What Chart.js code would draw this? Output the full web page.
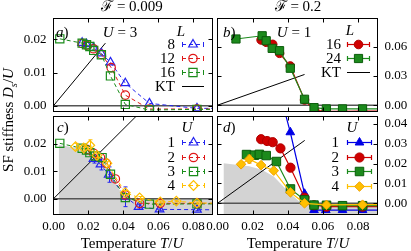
<!DOCTYPE html>
<html><head><meta charset="utf-8">
<script src="https://cdn.jsdelivr.net/npm/chart.js@4/dist/chart.umd.min.js"></script>
<style>
html,body{margin:0;padding:0;background:#fff;}
#wrap{position:relative;width:411px;height:251px;overflow:hidden;font-family:'Liberation Serif','Times New Roman',serif;color:#000;}
canvas{position:absolute;left:0;top:0;}
.t{position:absolute;white-space:nowrap;line-height:1;font-size:15px;}
.c{transform:translate(-50%,-50%);}
.r{transform:translate(-100%,-50%);}
.l{transform:translate(0,-50%);}
sub{font-size:70%;line-height:0;}
</style></head><body>
<div id="wrap">
<canvas id="ca" width="411" height="251"></canvas>
<canvas id="cb" width="411" height="251"></canvas>
<canvas id="cc" width="411" height="251"></canvas>
<canvas id="cd" width="411" height="251"></canvas>

<div class="t c" style="left:132px;top:6px">ℱ = 0.009</div>
<div class="t c" style="left:298px;top:6px">ℱ = 0.2</div>
<div class="t c" style="left:8px;top:120px;transform:translate(-50%,-50%) rotate(-90deg)">SF stiffness <i>D</i><sub><i>s</i></sub>/<i>U</i></div>
<div class="t c" style="left:132px;top:243px">Temperature <i>T</i>/<i>U</i></div>
<div class="t c" style="left:298px;top:243px">Temperature <i>T</i>/<i>U</i></div>

<div class="t l" style="left:56px;top:32px"><i>a</i>)</div>
<div class="t l" style="left:223px;top:32px"><i>b</i>)</div>
<div class="t l" style="left:57px;top:127px"><i>c</i>)</div>
<div class="t l" style="left:223px;top:127px"><i>d</i>)</div>
<div class="t c" style="left:120px;top:32px"><i>U</i> = 3</div>
<div class="t c" style="left:294px;top:32px"><i>U</i> = 1</div>

<div class="t c" style="left:181px;top:31px"><i>L</i></div>
<div class="t r" style="left:175px;top:44px">8</div>
<div class="t r" style="left:175px;top:58px">12</div>
<div class="t r" style="left:175px;top:72px">16</div>
<div class="t r" style="left:175px;top:86px">KT</div>

<div class="t c" style="left:350px;top:30px"><i>L</i></div>
<div class="t r" style="left:341px;top:44px">16</div>
<div class="t r" style="left:341px;top:58px">24</div>
<div class="t r" style="left:341px;top:72px">KT</div>

<div class="t c" style="left:187px;top:127px"><i>U</i></div>
<div class="t r" style="left:175px;top:142px">1</div>
<div class="t r" style="left:175px;top:157px">2</div>
<div class="t r" style="left:175px;top:171px">3</div>
<div class="t r" style="left:175px;top:185px">4</div>

<div class="t c" style="left:352px;top:127px"><i>U</i></div>
<div class="t r" style="left:339px;top:142px">1</div>
<div class="t r" style="left:339px;top:157px">2</div>
<div class="t r" style="left:339px;top:171px">3</div>
<div class="t r" style="left:339px;top:186px">4</div>
</div>

<script>
// ---------- axes ----------
const xTicks = [0, 0.02, 0.04, 0.06, 0.08];
const xTickLabels = ['0.00', '0.02', '0.04', '0.06', '0.08'];
const yTicksA = [0, 0.01, 0.02];
const yTickLabelsA = ['0.00', '0.01', '0.02'];
const yTicksB = [0, 0.03, 0.06];
const yTickLabelsB = ['0.00', '0.03', '0.06'];
const yTicksC = [0, 0.01, 0.02];
const yTickLabelsC = ['0.00', '0.01', '0.02'];
const yTicksD = [0, 0.01, 0.02, 0.03, 0.04];
const yTickLabelsD = ['0.00', '0.01', '0.02', '0.03', '0.04'];

// ---------- panel a: F=0.009, U=3, sizes L ----------
const aT8   = [0.0164, 0.0189, 0.0229, 0.0274, 0.0326, 0.0411, 0.0549, 0.0821, 0.1];
const aDs8  = [0.0190, 0.0186, 0.0175, 0.0158, 0.0131, 0.0068, 0.0007, -0.0008, -0.0008];
const aT12  = [0.0164, 0.0189, 0.0229, 0.0274, 0.0330, 0.0411, 0.0549, 0.0821, 0.1];
const aDs12 = [0.0188, 0.0183, 0.0172, 0.0155, 0.0115, 0.0032, -0.0010, -0.0010, -0.0010];
const aT16  = [0.0036, 0.0164, 0.0189, 0.0208, 0.0230, 0.0274, 0.0326, 0.0411, 0.0549, 0.0821, 0.1];
const aDs16 = [0.0202, 0.0189, 0.0184, 0.0179, 0.0167, 0.0154, 0.0090, 0.0004, -0.0013, -0.0011, -0.0011];
const aKtT  = [0, 0.0297];
const aKtDs = [0, 0.0189];

// ---------- panel b: F=0.2, U=1, sizes L ----------
const bT16  = [0.0248, 0.0277, 0.0314, 0.0353, 0.0414, 0.0495, 0.0553, 0.0619, 0.0711, 0.0825, 0.1];
const bDs16 = [0.0669, 0.0645, 0.0624, 0.0532, 0.0402, 0.0054, -0.0055, -0.0060, -0.0062, -0.0060, -0.0060];
const bT24  = [0.0105, 0.0254, 0.0277, 0.0311, 0.0353, 0.0414, 0.0495, 0.0549, 0.0619, 0.0711, 0.0825, 0.1];
const bDs24 = [0.0679, 0.0712, 0.0661, 0.0583, 0.0559, 0.0379, 0.0061, -0.0025, -0.0038, -0.0038, -0.0038, -0.0038];
const bKtT  = [0, 0.0495];
const bKtDs = [0, 0.0315];

// ---------- panel c: F=0.009, interactions U ----------
const cT1   = [0.0229, 0.0269, 0.0316, 0.0411, 0.0487, 0.0607, 0.0821, 0.1];
const cDs1  = [0.0145, 0.0125, 0.0088, 0.0007, -0.0030, -0.0039, -0.0040, -0.0041];
const cErr1 = [0.0015, 0.0020, 0.0028, 0.0036, 0.0008, 0.0005, 0.0004, 0];
const cT2   = [0.0189, 0.0229, 0.0269, 0.0303, 0.0354, 0.0411, 0.0493, 0.0611, 0.0825, 0.1];
const cDs2  = [0.0180, 0.0166, 0.0150, 0.0129, 0.0072, 0.0014, -0.0017, -0.0017, -0.0017, -0.0017];
const cT3   = [0.0036, 0.0164, 0.0189, 0.0208, 0.0240, 0.0278, 0.0326, 0.0411, 0.0549, 0.0821, 0.1];
const cDs3  = [0.0202, 0.0184, 0.0178, 0.0168, 0.0156, 0.0150, 0.0089, 0.0004, -0.0020, -0.0019, -0.0019];
const cT4   = [0.0126, 0.0173, 0.0208, 0.0249, 0.0306, 0.0411, 0.0493, 0.0611, 0.0703, 0.0821, 0.1];
const cDs4  = [0.0190, 0.0185, 0.0195, 0.0158, 0.0129, 0.0022, 0.0003, -0.0012, -0.0009, -0.0016, -0.0016];
const cErr4 = [0.0012, 0.0008, 0.0020, 0.0008, 0.0006, 0.0008, 0.0005, 0.0004, 0.0003, 0.0004, 0];
const cGrayT  = [0.0030, 0.0154, 0.0249, 0.0316, 0.0383, 0.0410, 0.1];
const cGrayDs = [0.0196, 0.0184, 0.0153, 0.0099, 0.0026, 0.0000, 0.0000];
const cKtT  = [0, 0.05];
const cKtDs = [0, 0.0318];

// ---------- panel d: F=0.2, interactions U ----------
const dT1   = [0.0353, 0.0414, 0.0495, 0.0549, 0.0616, 0.0711, 0.0825, 0.1];
const dDs1  = [0.0560, 0.0357, 0.0048, -0.0034, -0.0034, -0.0034, -0.0034, -0.0034];
const dT2   = [0.0248, 0.0282, 0.0314, 0.0358, 0.0415, 0.0495, 0.0549, 0.0620, 0.0825, 0.1];
const dDs2  = [0.0322, 0.0313, 0.0307, 0.0276, 0.0179, 0.0028, -0.0010, -0.0017, -0.0017, -0.0017];
const dT3   = [0.0165, 0.0210, 0.0238, 0.0277, 0.0335, 0.0415, 0.0495, 0.0549, 0.0620, 0.0711, 0.0825, 0.1];
const dDs3  = [0.0245, 0.0242, 0.0246, 0.0240, 0.0210, 0.0072, 0.0017, -0.0009, -0.0010, -0.0012, -0.0012, -0.0012];
const dT4   = [0.0134, 0.0181, 0.0248, 0.0320, 0.0415, 0.0495, 0.0620, 0.0825, 0.1];
const dDs4  = [0.0196, 0.0222, 0.0192, 0.0164, 0.0055, 0.0000, -0.0008, -0.0007, -0.0007];
const dErr4 = [0.0012, 0.0020, 0.0008, 0.0008, 0.0006, 0.0004, 0.0003, 0.0003, 0];
const dGrayT  = [0.0034, 0.0180, 0.0250, 0.0320, 0.0400, 0.0470, 0.0500, 0.1];
const dGrayDs = [0.0201, 0.0186, 0.0170, 0.0135, 0.0060, 0.0005, 0.0000, 0.0000];
const dKtT  = [0, 0.0496];
const dKtDs = [0, 0.0316];

// ---------- styling ----------
const FONT = "'Liberation Serif','Times New Roman',serif";
const X_MAX = 0.091;
const BLUE = '#2424f0', RED = '#e01818', GREEN = '#1a8c1a', YEL = '#ffbf00';
const DASH = [4, 3];
const GRAY = '#d3d3d3';

function pts(T, D) { return T.map((t, i) => ({x: t, y: D[i]})); }
function series(T, D, o) {
  return {
    data: pts(T, D), showLine: true, tension: 0, fill: false,
    borderColor: o.color, borderWidth: o.lw || 1, borderDash: o.dash || [],
    pointStyle: o.style, pointRadius: o.r, pointHoverRadius: o.r,
    pointBackgroundColor: o.fill, pointBorderColor: o.stroke || o.color,
    pointBorderWidth: o.plw || 1, order: o.order, err: o.err || null
  };
}
function ktLine(T, D) {
  return {data: pts(T, D), showLine: true, borderColor: '#000', borderWidth: 1, pointRadius: 0, fill: false, order: 50};
}
function grayArea(T, D) {
  return {data: pts(T, D), showLine: true, borderWidth: 0, borderColor: GRAY, backgroundColor: GRAY,
          pointRadius: 0, fill: 'start', order: 100, isGray: true};
}

function drawZero(chart) {
  const {ctx, chartArea: a, scales} = chart;
  const y = scales.y.getPixelForValue(0);
  ctx.save();
  ctx.strokeStyle = '#555'; ctx.lineWidth = 1.6; ctx.setLineDash([]);
  ctx.beginPath(); ctx.moveTo(a.left, y); ctx.lineTo(a.right, y); ctx.stroke();
  ctx.restore();
}

const framePlugin = {
  id: 'frame',
  beforeDatasetsDraw(chart) {
    if (!chart.data.datasets.some(d => d.isGray)) drawZero(chart);
  },
  beforeDatasetDraw(chart, args) {
    // error bars under the markers of their own series
    const ds = chart.data.datasets[args.index];
    if (!ds.err) return;
    const {ctx, chartArea: a, scales} = chart;
    ctx.save();
    ctx.beginPath(); ctx.rect(a.left, a.top, a.right - a.left, a.bottom - a.top); ctx.clip();
    ctx.strokeStyle = ds.pointBorderColor; ctx.lineWidth = 1; ctx.setLineDash([]);
    ctx.beginPath();
    ds.data.forEach((p, i) => {
      const e = ds.err[i];
      if (!e) return;
      const x = Math.round(scales.x.getPixelForValue(p.x)) + 0.5;
      const y1 = scales.y.getPixelForValue(p.y - e), y2 = scales.y.getPixelForValue(p.y + e);
      ctx.moveTo(x, y1); ctx.lineTo(x, y2);
      ctx.moveTo(x - 2, y1); ctx.lineTo(x + 2, y1);
      ctx.moveTo(x - 2, y2); ctx.lineTo(x + 2, y2);
    });
    ctx.stroke();
    ctx.restore();
  },
  afterDatasetDraw(chart, args) {
    if (chart.data.datasets[args.index].isGray) drawZero(chart);
  },
  afterDatasetsDraw(chart) {
    const {ctx, chartArea: a, scales} = chart;
    ctx.save();
    ctx.strokeStyle = '#000'; ctx.lineWidth = 1; ctx.setLineDash([]);
    ctx.strokeRect(a.left, a.top, a.right - a.left, a.bottom - a.top);
    const L = 4;
    ctx.beginPath();
    scales.x.ticks.forEach(t => {
      const px = Math.round(scales.x.getPixelForValue(t.value)) + 0.5;
      if (px <= a.left + 1 || px >= a.right - 1) return;
      ctx.moveTo(px, a.bottom); ctx.lineTo(px, a.bottom - L);
      ctx.moveTo(px, a.top); ctx.lineTo(px, a.top + L);
    });
    scales.y.ticks.forEach(t => {
      const py = Math.round(scales.y.getPixelForValue(t.value)) + 0.5;
      if (py <= a.top + 1 || py >= a.bottom - 1) return;
      ctx.moveTo(a.left, py); ctx.lineTo(a.left + L, py);
      ctx.moveTo(a.right, py); ctx.lineTo(a.right - L, py);
    });
    ctx.stroke();
    ctx.restore();
  }
};

function drawMarker(ctx, style, r, x, y, fill, stroke, lw) {
  ctx.save();
  ctx.setLineDash([]);
  ctx.beginPath();
  if (style === 'circle') ctx.arc(x, y, r, 0, Math.PI * 2);
  else if (style === 'rect') { const s = r * Math.SQRT1_2; ctx.rect(x - s, y - s, 2 * s, 2 * s); }
  else if (style === 'triangle') {
    for (let k = 0; k < 3; k++) {
      const ang = k * 2 * Math.PI / 3;
      const px = x + Math.sin(ang) * r, py = y - Math.cos(ang) * r;
      if (k === 0) ctx.moveTo(px, py); else ctx.lineTo(px, py);
    }
    ctx.closePath();
  } else if (style === 'rectRot') {
    ctx.moveTo(x - r, y); ctx.lineTo(x, y - r); ctx.lineTo(x + r, y); ctx.lineTo(x, y + r); ctx.closePath();
  }
  ctx.fillStyle = fill; ctx.fill();
  ctx.strokeStyle = stroke; ctx.lineWidth = lw; ctx.stroke();
  ctx.restore();
}

const legendPlugin = {
  id: 'lg',
  afterDatasetsDraw(chart, args, opts) {
    if (!opts || !opts.rows) return;
    const ctx = chart.ctx;
    const x1 = opts.x1, x2 = opts.x2;
    opts.rows.forEach(row => {
      const ds = chart.data.datasets[row.ds];
      const y = row.y + 0.5;
      ctx.save();
      ctx.strokeStyle = ds.borderColor; ctx.lineWidth = ds.borderWidth;
      if (row.kt) {
        ctx.setLineDash([]);
        ctx.beginPath(); ctx.moveTo(x1, y); ctx.lineTo(x2, y); ctx.stroke();
      } else {
        ctx.setLineDash(ds.borderDash || []);
        ctx.beginPath(); ctx.moveTo(x1, y); ctx.lineTo(x2, y); ctx.stroke();
        ctx.setLineDash([]);
        ctx.beginPath();
        ctx.moveTo(x1 + 0.5, y - 2.5); ctx.lineTo(x1 + 0.5, y + 2.5);
        ctx.moveTo(x2 - 0.5, y - 2.5); ctx.lineTo(x2 - 0.5, y + 2.5);
        ctx.stroke();
        drawMarker(ctx, ds.pointStyle, ds.pointRadius, (x1 + x2) / 2, y,
                   ds.pointBackgroundColor, ds.pointBorderColor, ds.pointBorderWidth);
      }
      ctx.restore();
    });
  }
};

function xAxis(show) {
  return {
    type: 'linear', min: 0, max: X_MAX, position: 'bottom', display: show,
    afterBuildTicks: s => { s.ticks = xTicks.map(v => ({value: v})); },
    afterFit: s => { s.height = show ? 30 : 0; },
    grid: {display: false, drawTicks: false}, border: {display: false},
    ticks: {padding: 4.5, color: '#000', font: {family: FONT, size: 13}, autoSkip: false, maxRotation: 0,
            callback: (v, i) => xTickLabels[i]}
  };
}
function yAxis(min, max, ticks, labels, pos, width, pad) {
  return {
    type: 'linear', min: min, max: max, position: pos,
    afterBuildTicks: s => { s.ticks = ticks.map(v => ({value: v})); },
    afterFit: s => { s.width = width; },
    grid: {display: false, drawTicks: false}, border: {display: false},
    ticks: {padding: pad, color: '#000', font: {family: FONT, size: 13}, autoSkip: false,
            callback: (v, i) => labels[i]}
  };
}

function makeChart(id, datasets, padding, showX, y, lg) {
  return new Chart(document.getElementById(id), {
    type: 'line',
    data: {datasets: datasets},
    options: {
      responsive: false, animation: false, events: [],
      layout: {padding: padding},
      plugins: {legend: {display: false}, tooltip: {enabled: false}, lg: lg},
      scales: {x: xAxis(showX), y: y}
    },
    plugins: [framePlugin, legendPlugin]
  });
}

// panel a
makeChart('ca', [
  series(aT8,  aDs8,  {color: BLUE,  style: 'triangle', r: 5,   fill: 'rgba(0,0,0,0)', dash: DASH, plw: 1.2, order: 3}),
  series(aT12, aDs12, {color: RED,   style: 'circle',   r: 4.2, fill: 'rgba(0,0,0,0)', dash: DASH, plw: 1.2, order: 2}),
  series(aT16, aDs16, {color: GREEN, style: 'rect',     r: 5.8, fill: 'rgba(0,0,0,0)', dash: DASH, plw: 1.2, order: 1}),
  ktLine(aKtT, aKtDs)
], {left: 0, top: 18.5, right: 198.5, bottom: 139.5}, false,
  yAxis(-0.00175, 0.02634, yTicksA, yTickLabelsA, 'left', 53.5, 7),
  {x1: 182, x2: 204, rows: [{ds: 0, y: 44}, {ds: 1, y: 58}, {ds: 2, y: 72}, {ds: 3, y: 86, kt: true}]});

// panel b
makeChart('cb', [
  series(bT16, bDs16, {color: '#d00000', style: 'circle', r: 4.3, fill: '#d00000', stroke: '#b00000', lw: 1.2, order: 2}),
  series(bT24, bDs24, {color: '#1c8a1c', style: 'rect',   r: 5.8, fill: '#1c8a1c', stroke: '#0b5c0b', lw: 1.2, order: 1}),
  ktLine(bKtT, bKtDs)
], {left: 217.5, top: 18.5, right: 0, bottom: 139.5}, false,
  yAxis(-0.00646, 0.0889, yTicksB, yTickLabelsB, 'right', 33.5, 7),
  {x1: 347, x2: 370, rows: [{ds: 0, y: 44}, {ds: 1, y: 58}, {ds: 2, y: 72, kt: true}]});

// panel c
makeChart('cc', [
  series(cT1, cDs1, {color: BLUE,  style: 'triangle', r: 5,   fill: 'rgba(0,0,0,0)', dash: DASH, plw: 1.2, order: 4, err: cErr1}),
  series(cT2, cDs2, {color: RED,   style: 'circle',   r: 4.2, fill: 'rgba(0,0,0,0)', dash: DASH, plw: 1.2, order: 3}),
  series(cT3, cDs3, {color: GREEN, style: 'rect',     r: 5.8, fill: 'rgba(0,0,0,0)', dash: DASH, plw: 1.2, order: 2}),
  series(cT4, cDs4, {color: YEL,   style: 'rectRot',  r: 4.8, fill: 'rgba(0,0,0,0)', dash: DASH, plw: 1.2, order: 1, err: cErr4}),
  ktLine(cKtT, cKtDs),
  grayArea(cGrayT, cGrayDs)
], {left: 0, top: 116.5, right: 198.5, bottom: 6.5}, true,
  yAxis(-0.00577, 0.0300, yTicksC, yTickLabelsC, 'left', 53.5, 7),
  {x1: 182, x2: 205, rows: [{ds: 0, y: 142}, {ds: 1, y: 157}, {ds: 2, y: 171}, {ds: 3, y: 185}]});

// panel d
makeChart('cd', [
  series(dT1, dDs1, {color: '#0000e6', style: 'triangle', r: 5,   fill: '#0000e6', lw: 1.2, order: 4}),
  series(dT2, dDs2, {color: '#d00000', style: 'circle',   r: 4.6, fill: '#d00000', stroke: '#b00000', lw: 1.2, order: 3}),
  series(dT3, dDs3, {color: '#1c8a1c', style: 'rect',     r: 6,   fill: '#1c8a1c', stroke: '#0b5c0b', lw: 1.2, order: 2}),
  series(dT4, dDs4, {color: '#ffc000', style: 'rectRot',  r: 4.8, fill: '#ffc000', stroke: '#f0a000', lw: 1.2, order: 1, err: dErr4}),
  ktLine(dKtT, dKtDs),
  grayArea(dGrayT, dGrayDs)
], {left: 217.5, top: 116.5, right: 0, bottom: 6.5}, true,
  yAxis(-0.00563, 0.04362, yTicksD, yTickLabelsD, 'right', 33.5, 7),
  {x1: 347, x2: 372, rows: [{ds: 0, y: 142}, {ds: 1, y: 157}, {ds: 2, y: 171}, {ds: 3, y: 186}]});
</script>
</body></html>
